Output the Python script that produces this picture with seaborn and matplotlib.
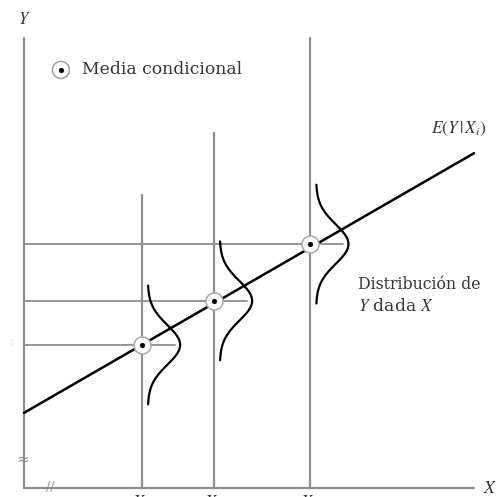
import numpy as np
import matplotlib
matplotlib.use("Agg")
import matplotlib.pyplot as plt
import seaborn as sns
import pandas as pd

# ---- data (conceptual units) ----
x_values = [2.62, 4.22, 6.36]          # X1, X2, X3
cond_means = [3.18, 4.16, 5.42]        # E(Y|Xi)
vline_tops = [6.51, 7.89, 10.0]
reg_x = [0.0, 10.0]
reg_y = [1.67, 7.44]
sd_y = 0.44
x_labels = ["$X_1$", "$X_2$", "$X_3$"]

sns.set_theme(style="white")
plt.rcParams["font.family"] = ["DejaVu Serif", "DejaVu Sans"]
plt.rcParams["mathtext.fontset"] = "stix"

fig = plt.figure(figsize=(5.04, 4.97), dpi=100)
ax = fig.add_axes([0, 0, 1, 1])
ax.set_xlim(-24 / 45, 480 / 45)
ax.set_ylim(-9 / 45, 488 / 45)
ax.axis("off")

grey = "#8e8e8e"
text_c = "#363636"

# axes
ax.plot([0, 0], [0, 10.0], color=grey, lw=1.6)
ax.plot([0, 10.0], [0, 0], color=grey, lw=1.6)
ax.text(0, 10.4, "$Y$", ha="center", va="center", fontsize=12, color=text_c)
ax.text(10.35, 0, "$X$", ha="center", va="center", fontsize=13, color=text_c)
ax.text(-0.03, 0.62, "≈", ha="center", va="center", fontsize=11, color=grey)
ax.text(0.58, 0.0, "//", ha="center", va="center", fontsize=9, color=grey)
ax.text(-0.28, 3.25, ":", ha="center", va="center", fontsize=8, color="#c8c8c8")

# vertical and horizontal guide lines
vdf = pd.DataFrame({
    "x": [v for x in x_values for v in (x, x)],
    "y": [v for t in vline_tops for v in (0, t)],
    "g": [i for i in range(3) for _ in range(2)],
})
sns.lineplot(data=vdf, x="x", y="y", units="g", estimator=None, sort=False,
             color=grey, lw=1.6, ax=ax, legend=False)
hdf = pd.DataFrame({
    "x": [v for x in x_values for v in (0, x + 0.73)],
    "y": [m for m in cond_means for _ in range(2)],
    "g": [i for i in range(3) for _ in range(2)],
})
sns.lineplot(data=hdf, x="x", y="y", units="g", estimator=None, sort=False,
             color=grey, lw=1.3, ax=ax, legend=False)

# regression line
sns.lineplot(x=reg_x, y=reg_y, color="black", lw=1.8, ax=ax, estimator=None)

# conditional distributions (normal densities drawn sideways)
rows = []
for i, (x, m) in enumerate(zip(x_values, cond_means)):
    yy = np.linspace(m - 3 * sd_y, m + 3 * sd_y, 80)
    dens = np.exp(-0.5 * ((yy - m) / sd_y) ** 2)
    for a, b in zip(yy, dens):
        rows.append({"x": x + 0.13 + 0.72 * b, "y": a, "g": i})
bdf = pd.DataFrame(rows)
sns.lineplot(data=bdf, x="x", y="y", units="g", estimator=None, sort=False,
             color="black", lw=1.6, ax=ax, legend=False)

# conditional means markers
sns.scatterplot(x=x_values, y=cond_means, s=150, facecolor="white",
                edgecolor="#a8a8a8", linewidth=1.1, ax=ax, zorder=5)
sns.scatterplot(x=x_values, y=cond_means, s=12, color="black",
                edgecolor="black", ax=ax, zorder=6)

# legend-like key
sns.scatterplot(x=[0.82], y=[9.29], s=150, facecolor="none",
                edgecolor="#a0a0a0", linewidth=1.1, ax=ax, zorder=5)
sns.scatterplot(x=[0.82], y=[9.29], s=12, color="black", edgecolor="black",
                ax=ax, zorder=6)
ax.text(1.28, 9.29, "Media condicional", ha="left", va="center",
        fontsize=12.4, color=text_c)

# annotations
ax.text(9.05, 7.98, r"$E(Y\,|\,X_i)$", ha="left", va="center",
        fontsize=12.5, color=text_c)
ax.text(7.42, 4.53, "Distribución de", ha="left", va="center",
        fontsize=11.3, color=text_c)
ax.text(7.42, 4.04, r"$Y$ dada $X$", ha="left", va="center",
        fontsize=12.3, color=text_c)

# x tick labels (cut by the bottom edge, as in the reference)
for x, lab in zip(x_values, x_labels):
    ax.text(x, -0.13, lab, ha="center", va="top", fontsize=12, color=text_c)

fig.savefig("out.png", dpi=100)
